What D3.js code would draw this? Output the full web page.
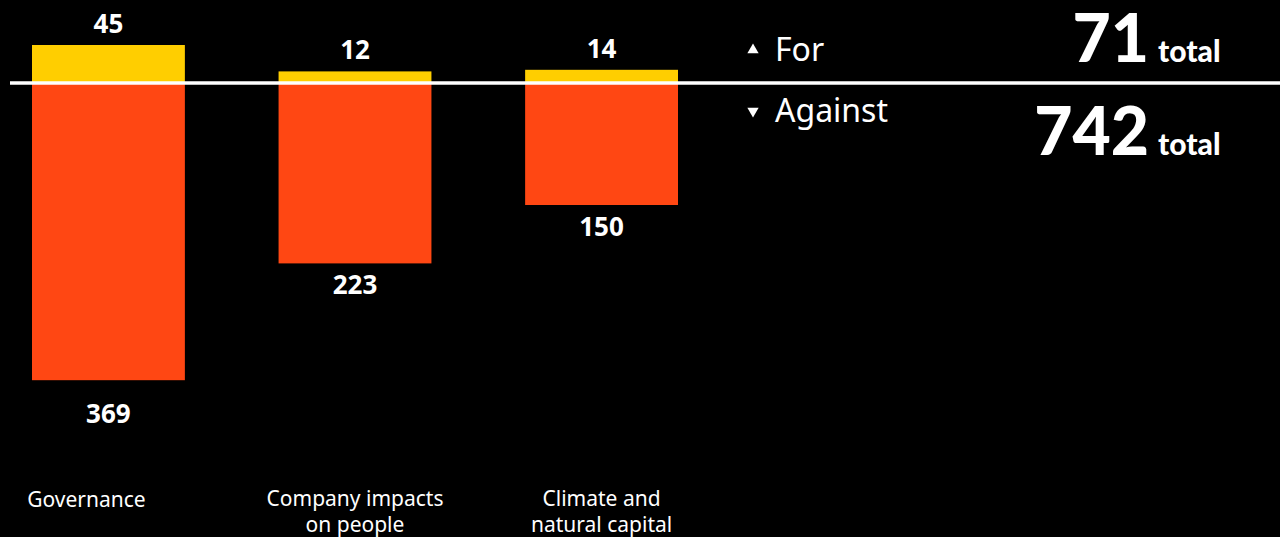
<!DOCTYPE html>
<html>
<head>
<meta charset="utf-8">
<script src="https://cdn.jsdelivr.net/npm/d3@7"></script>
<style>
  html, body { margin: 0; padding: 0; background: #000; }
  svg { display: block; }
</style>
</head>
<body>
<svg id="chart" width="1280" height="537"></svg>
<script>
// Shareholder proposals by theme: votes for vs. against
const categories = ["Governance", "Company impacts\non people", "Climate and\nnatural capital"];
const forVotes = [45, 12, 14];
const againstVotes = [369, 223, 150];
const legendLabels = ["For", "Against"];
const totalWord = "total";

const W = 1280, H = 537;
const colorFor = "#FFCE00";
const colorAgainst = "#FF4713";
const font = "'Noto Sans', 'Open Sans', sans-serif";
const heavy = "Lato, 'Noto Sans', sans-serif";

const svg = d3.select("#chart");
svg.append("rect").attr("width", W).attr("height", H).attr("fill", "#000");

// horizontal band positions for the three themes
const x = d3.scaleBand()
  .domain(categories)
  .range([32, 678])
  .paddingInner(0.38)
  .paddingOuter(0);

// bar length scale, shared by both directions
const h = d3.scaleLinear().domain([0, 400]).range([0, 320]);

const lineY = 83;      // centre of the dividing rule
const lineHalf = 2;    // half its thickness

const rows = categories.map((c, i) => ({ cat: c, f: forVotes[i], a: againstVotes[i] }));
const cx = d => x(d.cat) + x.bandwidth() / 2;

// bars above the rule: votes for
svg.selectAll("rect.for").data(rows).join("rect")
  .attr("class", "for")
  .attr("x", d => x(d.cat))
  .attr("width", x.bandwidth())
  .attr("y", d => lineY - lineHalf - h(d.f))
  .attr("height", d => h(d.f) + lineHalf)
  .attr("fill", colorFor);

// bars below the rule: votes against
svg.selectAll("rect.against").data(rows).join("rect")
  .attr("class", "against")
  .attr("x", d => x(d.cat))
  .attr("width", x.bandwidth())
  .attr("y", lineY)
  .attr("height", d => lineHalf + h(d.a))
  .attr("fill", colorAgainst);

// dividing rule
svg.append("line")
  .attr("x1", 10).attr("x2", W)
  .attr("y1", lineY).attr("y2", lineY)
  .attr("stroke", "#fff").attr("stroke-width", 3.5);

// value labels
svg.selectAll("text.for-val").data(rows).join("text")
  .attr("class", "for-val")
  .attr("x", cx)
  .attr("y", d => lineY - lineHalf - h(d.f) - 12)
  .attr("text-anchor", "middle")
  .attr("fill", "#fff")
  .attr("font-family", font).attr("font-weight", 700).attr("font-size", 26)
  .text(d => d.f);

const extraDrop = { "Governance": 12 };
svg.selectAll("text.against-val").data(rows).join("text")
  .attr("class", "against-val")
  .attr("x", cx)
  .attr("y", d => lineY + lineHalf + h(d.a) + 31 + (extraDrop[d.cat] || 0))
  .attr("text-anchor", "middle")
  .attr("fill", "#fff")
  .attr("font-family", font).attr("font-weight", 700).attr("font-size", 26)
  .text(d => d.a);

// category names under the chart
const catShift = { "Governance": -22 };
svg.selectAll("text.cat").data(rows).join("text")
  .attr("class", "cat")
  .attr("y", 507)
  .attr("text-anchor", "middle")
  .attr("fill", "#fff")
  .attr("font-family", font).attr("font-size", 21)
  .each(function(d) {
    const lines = d.cat.split("\n");
    const t = d3.select(this);
    lines.forEach((ln, j) => {
      t.append("tspan")
        .attr("x", cx(d) + (catShift[d.cat] || 0))
        .attr("dy", j === 0 ? (lines.length > 1 ? -1 : 0) : 26)
        .text(ln);
    });
  });

// legend
const legend = [
  { label: legendLabels[0], y: 50, rot: 0 },
  { label: legendLabels[1], y: 111, rot: 180 }
];
const lg = svg.selectAll("g.legend").data(legend).join("g")
  .attr("class", "legend")
  .attr("transform", d => `translate(753,${d.y})`);
lg.append("path")
  .attr("d", d3.symbol().type(d3.symbolTriangle).size(55)())
  .attr("transform", d => `rotate(${d.rot})`)
  .attr("fill", "#fff");
lg.append("text")
  .attr("x", 22).attr("dy", "0.35em")
  .attr("fill", "#fff")
  .attr("font-family", font).attr("font-size", 32)
  .text(d => d.label);

// totals
const totals = [
  { v: d3.sum(forVotes), y: 62 },
  { v: d3.sum(againstVotes), y: 155 }
];
const tg = svg.selectAll("g.total").data(totals).join("g").attr("class", "total");
tg.append("text")
  .attr("x", 1149).attr("y", d => d.y)
  .attr("text-anchor", "end")
  .attr("fill", "#fff")
  .attr("font-family", heavy).attr("font-weight", 900).attr("font-size", 66)
  .text(d => d.v);
tg.append("text")
  .attr("x", 1158).attr("y", d => d.y)
  .attr("fill", "#fff")
  .attr("font-family", heavy).attr("font-weight", 900).attr("font-size", 30)
  .text(totalWord);
</script>
</body>
</html>
